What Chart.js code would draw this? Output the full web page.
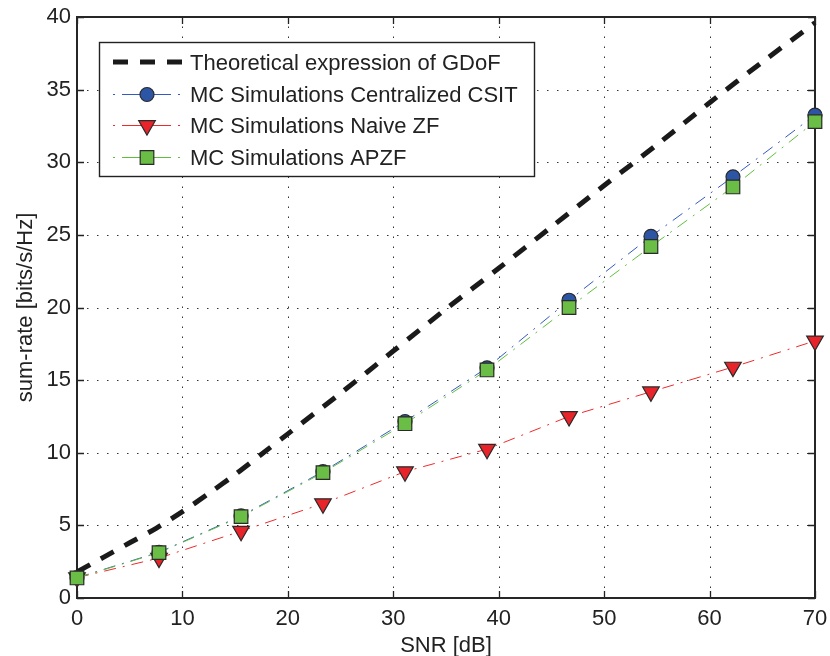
<!DOCTYPE html>
<html><head><meta charset="utf-8">
<style>html,body{margin:0;padding:0;background:#fff}#wrap{width:830px;height:656px;position:relative;overflow:hidden}</style>
<script src="https://cdn.jsdelivr.net/npm/chart.js@4.4.0/dist/chart.umd.min.js"></script>
</head><body><div id="wrap"><canvas id="c" width="830" height="656"></canvas></div>
<script>
// ---- data ----
const snr = [0, 7.78, 15.56, 23.33, 31.11, 38.89, 46.67, 54.44, 62.22, 70];
const centralized = [1.4, 3.15, 5.65, 8.7, 12.15, 15.85, 20.5, 24.9, 29.0, 33.25];
const naiveZF = [1.4, 2.75, 4.6, 6.5, 8.7, 10.25, 12.5, 14.2, 15.9, 17.7];
const apzf = [1.38, 3.12, 5.6, 8.63, 12.0, 15.7, 20.0, 24.2, 28.3, 32.8];
const theoSNR = [0, 2.5, 5, 7.5, 10, 12.5, 15, 17.5, 20, 25, 30, 35, 40, 45, 50, 55, 60, 65, 70];
const theoRate = [1.8, 2.8, 3.8, 4.8, 5.95, 7.2, 8.5, 9.9, 11.3, 14.1, 17.0, 19.9, 22.7, 25.55, 28.4, 31.2, 34.1, 36.9, 39.6];
const xTicks = [0, 10, 20, 30, 40, 50, 60, 70];
const yTicks = [0, 5, 10, 15, 20, 25, 30, 35, 40];
const seriesNames = ['Theoretical expression of GDoF', 'MC Simulations Centralized CSIT', 'MC Simulations Naive ZF', 'MC Simulations APZF'];
const xTitle = 'SNR [dB]';
const yTitle = 'sum-rate [bits/s/Hz]';

const FONT = '"Liberation Sans", Arial, Helvetica, sans-serif';
const TXT = '#222222';
const BLUE_F = '#2d55a6', RED_F = '#e8242a', GREEN_F = '#6abd45';
const BLUE_L = '#3559c0', RED_L = '#ee2a2a', GREEN_L = '#5fbf3c';
const EDGE = '#2a2a2a';
const DASHDOT = [12, 7, 2, 7];

const pts = (xs, ys) => xs.map((v, i) => ({x: v, y: ys[i]}));

function drawMarker(ctx, style, x, y, fill) {
  ctx.save();
  ctx.fillStyle = fill; ctx.strokeStyle = EDGE; ctx.lineWidth = 1.2; ctx.setLineDash([]);
  ctx.beginPath();
  if (style === 'circle') { ctx.arc(x, y, 7, 0, Math.PI * 2); }
  else if (style === 'rect') { ctx.rect(x - 6.8, y - 6.8, 13.6, 13.6); }
  else { const r = 9.6; ctx.moveTo(x, y + r); ctx.lineTo(x - r * 0.866, y - r / 2); ctx.lineTo(x + r * 0.866, y - r / 2); ctx.closePath(); }
  ctx.fill(); ctx.stroke();
  ctx.restore();
}

const frame = {
  id: 'frame',
  beforeDatasetsDraw(chart) {
    const {ctx, chartArea: a, scales: {x, y}} = chart;
    ctx.save();
    ctx.strokeStyle = '#333'; ctx.lineWidth = 1; ctx.setLineDash([1.5, 8.5]);
    xTicks.forEach(v => {
      if (v <= x.min || v >= x.max) return;
      const px = Math.round(x.getPixelForValue(v)) + 0.5;
      ctx.beginPath(); ctx.moveTo(px, a.bottom); ctx.lineTo(px, a.top); ctx.stroke();
    });
    yTicks.forEach(v => {
      if (v <= y.min || v >= y.max) return;
      const py = Math.round(y.getPixelForValue(v)) + 0.5;
      ctx.beginPath(); ctx.moveTo(a.left, py); ctx.lineTo(a.right, py); ctx.stroke();
    });
    ctx.setLineDash([]);
    ctx.strokeStyle = '#222'; ctx.lineWidth = 1.3;
    const tl = 7;
    xTicks.forEach(v => {
      const px = Math.round(x.getPixelForValue(v)) + 0.5;
      ctx.beginPath(); ctx.moveTo(px, a.bottom); ctx.lineTo(px, a.bottom - tl);
      ctx.moveTo(px, a.top); ctx.lineTo(px, a.top + tl); ctx.stroke();
    });
    yTicks.forEach(v => {
      const py = Math.round(y.getPixelForValue(v)) + 0.5;
      ctx.beginPath(); ctx.moveTo(a.left, py); ctx.lineTo(a.left + tl, py);
      ctx.moveTo(a.right, py); ctx.lineTo(a.right - tl, py); ctx.stroke();
    });
    ctx.lineWidth = 2; ctx.strokeStyle = '#262626';
    ctx.strokeRect(a.left, a.top, a.right - a.left, a.bottom - a.top);
    ctx.restore();
  },
  afterDatasetsDraw(chart) {
    const ctx = chart.ctx;
    ctx.save();
    const L = {x: 99.5, y: 42.5, w: 435, h: 134};
    ctx.fillStyle = '#fff'; ctx.fillRect(L.x, L.y, L.w, L.h);
    ctx.strokeStyle = '#222'; ctx.lineWidth = 1.4; ctx.strokeRect(L.x, L.y, L.w, L.h);
    const rows = [62, 94.5, 125.5, 157.5];
    const x0 = 113, x1 = 181, xm = 147;
    ctx.strokeStyle = '#1a1a1a'; ctx.lineWidth = 5; ctx.lineCap = 'butt'; ctx.setLineDash([15, 12]);
    ctx.beginPath(); ctx.moveTo(x0, rows[0]); ctx.lineTo(x1 + 1, rows[0]); ctx.stroke();
    ctx.setLineDash([]);
    const sty = [null, ['circle', BLUE_L, BLUE_F], ['triangle', RED_L, RED_F], ['rect', GREEN_L, GREEN_F]];
    for (let i = 1; i < 4; i++) {
      const yy = rows[i];
      ctx.strokeStyle = sty[i][1]; ctx.lineWidth = 1;
      ctx.beginPath();
      ctx.moveTo(x0, yy); ctx.lineTo(x0 + 2, yy);
      ctx.moveTo(x0 + 9, yy); ctx.lineTo(x1 - 10, yy);
      ctx.moveTo(x1 - 3, yy); ctx.lineTo(x1 - 1, yy);
      ctx.stroke();
      drawMarker(ctx, sty[i][0], xm, yy, sty[i][2]);
    }
    ctx.fillStyle = TXT; ctx.font = '22px ' + FONT; ctx.textBaseline = 'middle'; ctx.textAlign = 'left';
    seriesNames.forEach((n, i) => ctx.fillText(n, 190, rows[i] + 1.5));
    ctx.restore();
  }
};

const mk = (label, data, line, fill, style, order, extra) => Object.assign({
  label, data, borderColor: line, backgroundColor: fill, borderWidth: 1, borderDash: DASHDOT,
  pointStyle: style, pointRadius: style === 'circle' ? 7 : 9.6, pointBackgroundColor: fill,
  pointBorderColor: EDGE, pointBorderWidth: 1.2, pointHoverRadius: 0, tension: 0, clip: false, order
}, extra || {});

new Chart(document.getElementById('c'), {
  type: 'line',
  data: {
    datasets: [
      {label: seriesNames[0], data: pts(theoSNR, theoRate), borderColor: '#1a1a1a', borderWidth: 5,
        borderDash: [15, 12], borderCapStyle: 'butt', pointRadius: 0, tension: 0.3, clip: false, order: 4},
      mk(seriesNames[1], pts(snr, centralized), BLUE_L, BLUE_F, 'circle', 3),
      mk(seriesNames[2], pts(snr, naiveZF), RED_L, RED_F, 'triangle', 2, {pointRotation: 180}),
      mk(seriesNames[3], pts(snr, apzf), GREEN_L, GREEN_F, 'rect', 1, {pointRadius: 9.6})
    ]
  },
  options: {
    responsive: false, animation: false, devicePixelRatio: 1,
    layout: {padding: {left: 0, right: 15, top: 17, bottom: 0}},
    plugins: {legend: {display: false}, tooltip: {enabled: false}, title: {display: false}},
    events: [],
    scales: {
      x: {
        type: 'linear', min: 0, max: 70,
        afterBuildTicks: s => { s.ticks = xTicks.map(v => ({value: v})); },
        afterFit: s => { s.height = 58; s.paddingLeft = 0; s.paddingRight = 0; },
        grid: {display: false, drawTicks: false}, border: {display: false},
        ticks: {font: {family: FONT, size: 22, lineHeight: 1.2}, color: TXT, padding: 8, maxRotation: 0, autoSkip: false},
        title: {display: true, text: xTitle, color: TXT, font: {family: FONT, size: 22, lineHeight: 1.2}, padding: {top: 0, bottom: -3.6}}
      },
      y: {
        type: 'linear', min: 0, max: 40,
        afterBuildTicks: s => { s.ticks = yTicks.map(v => ({value: v})); },
        afterFit: s => { s.width = 77; s.paddingTop = 0; s.paddingBottom = 0; },
        grid: {display: false, drawTicks: false}, border: {display: false},
        ticks: {font: {family: FONT, size: 22, lineHeight: 1.2}, color: TXT, padding: 6, autoSkip: false},
        title: {display: true, text: yTitle, color: TXT, font: {family: FONT, size: 22, lineHeight: 1.2}, padding: {top: 12.5, bottom: 0}}
      }
    }
  },
  plugins: [frame]
});
</script></body></html>
